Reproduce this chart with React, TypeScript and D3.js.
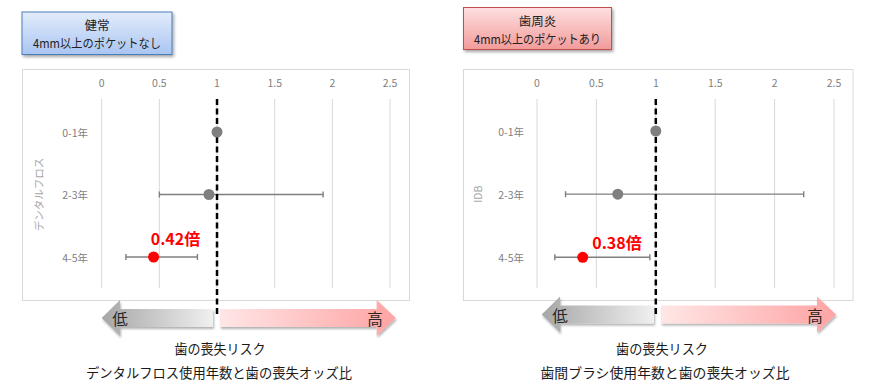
import React from "react";
import * as d3 from "d3";

const categories = ["0-1年", "2-3年", "4-5年"];
const xTicks = [0, 0.5, 1, 1.5, 2, 2.5];

const flossOR = [1.0, 0.93, 0.45];
const flossLow = [1.0, 0.5, 0.21];
const flossHigh = [1.0, 1.92, 0.83];

const idbOR = [1.0, 0.68, 0.385];
const idbLow = [1.0, 0.24, 0.15];
const idbHigh = [1.0, 2.245, 0.95];

const highlightLabels = ["0.42倍", "0.38倍"];
const yTitles = ["デンタルフロス", "IDB"];
const boxTitles = [["健常", "4mm以上のポケットなし"], ["歯周炎", "4mm以上のポケットあり"]];
const footer1 = "歯の喪失リスク";
const footer2 = ["デンタルフロス使用年数と歯の喪失オッズ比", "歯間ブラシ使用年数と歯の喪失オッズ比"];

const FONT = "'Noto Sans CJK JP', 'Noto Sans', sans-serif";

type Panel = {
  idx: number;
  or: number[];
  lo: number[];
  hi: number[];
  frame: [number, number, number, number];
  xr: [number, number];
  yr: [number, number];
  catX: number;
  titleX: number;
  box: [number, number, number, number];
  boxY: [number, number];
  boxW2: number;
  lbl: [number, number];
  arrowY: number;
  arrowL: [number, number, number];
  arrowR: [number, number, number];
  lowX: number;
  highX: number;
  foot: [number, number, number, number];
};

const panels: Panel[] = [
  {
    idx: 0, or: flossOR, lo: flossLow, hi: flossHigh,
    frame: [22.5, 69.5, 409.5, 300.5], xr: [101.7, 390], yr: [132, 257],
    catX: 88, titleX: 38,
    box: [22, 12, 172, 54.5], boxY: [24, 42], boxW2: 128,
    lbl: [175.5, 238], arrowY: 318,
    arrowL: [101.7, 120, 213], arrowR: [220, 376.7, 395.7],
    lowX: 120, highX: 375,
    foot: [220, 219, 91, 266],
  },
  {
    idx: 1, or: idbOR, lo: idbLow, hi: idbHigh,
    frame: [463.5, 69.5, 853, 300.5], xr: [537, 834], yr: [131, 257.3],
    catX: 524, titleX: 477,
    box: [463.5, 7.5, 611.5, 49.5], boxY: [20, 38], boxW2: 127,
    lbl: [617, 242], arrowY: 314.5,
    arrowL: [541.7, 560, 654], arrowR: [661, 817, 836],
    lowX: 560, highX: 815,
    foot: [662, 665, 92, 249],
  },
];

function arrowPath(tip: number, headBack: number, end: number, cy: number, dir: number) {
  const bh = 9, hh = 18;
  if (dir < 0) {
    return `M${tip},${cy} L${headBack},${cy - hh} L${headBack},${cy - bh} L${end},${cy - bh} L${end},${cy + bh} L${headBack},${cy + bh} L${headBack},${cy + hh} Z`;
  }
  return `M${end},${cy} L${headBack},${cy - hh} L${headBack},${cy - bh} L${tip},${cy - bh} L${tip},${cy + bh} L${headBack},${cy + bh} L${headBack},${cy + hh} Z`;
}

function PanelView({ p }: { p: Panel }) {
  const x = d3.scaleLinear().domain([0, 2.5]).range(p.xr);
  const y = d3.scalePoint<string>().domain(categories).range(p.yr);
  const [fx1, fy1, fx2, fy2] = p.frame;
  const [bx1, by1, bx2, by2] = p.box;
  const bcx = (bx1 + bx2) / 2;
  const isBlue = p.idx === 0;
  const ycen = (p.yr[0] + p.yr[1]) / 2;
  return (
    <g>
      {/* label box */}
      <rect x={bx1} y={by1} width={bx2 - bx1} height={by2 - by1}
        fill={`url(#box${p.idx})`} stroke={isBlue ? "#4a7ebb" : "#c0504d"} strokeWidth={1}
        filter="url(#shadow)" />
      <text x={bcx} y={p.boxY[0]} textAnchor="middle" dominantBaseline="central"
        fontFamily={FONT} fontSize={12.5} fill="#222">{boxTitles[p.idx][0]}</text>
      <text x={bcx} y={p.boxY[1]} textAnchor="middle" dominantBaseline="central"
        fontFamily={FONT} fontSize={12.5} fill="#222" textLength={p.boxW2}
        lengthAdjust="spacingAndGlyphs">{boxTitles[p.idx][1]}</text>

      {/* frame */}
      <rect x={fx1} y={fy1} width={fx2 - fx1} height={fy2 - fy1} fill="#fff" stroke="#d9d9d9" strokeWidth={1} />

      {/* grid and ticks */}
      {xTicks.map((t) => (
        <g key={t}>
          <line x1={x(t)} x2={x(t)} y1={99} y2={288} stroke="#d9d9d9" strokeWidth={1} />
          <text x={x(t)} y={82} textAnchor="middle" dominantBaseline="central"
            fontFamily={FONT} fontSize={10.5} fill="#7f7f7f">{t}</text>
        </g>
      ))}

      {/* categories */}
      {categories.map((c) => (
        <text key={c} x={p.catX} y={y(c)} textAnchor="end" dominantBaseline="central"
          fontFamily={FONT} fontSize={10.5} fill="#7f7f7f">{c}</text>
      ))}

      {/* y title */}
      <text transform={`translate(${p.titleX},${ycen}) rotate(-90)`} textAnchor="middle"
        dominantBaseline="central" fontFamily={FONT} fontSize={10.5} fill="#a6a6a6">{yTitles[p.idx]}</text>

      {/* arrows */}
      <path d={arrowPath(p.arrowL[0], p.arrowL[1], p.arrowL[2], p.arrowY, -1)} fill="url(#grayGrad)" filter="url(#ashadow)" />
      <path d={arrowPath(p.arrowR[0], p.arrowR[1], p.arrowR[2], p.arrowY, 1)} fill="url(#pinkGrad)" filter="url(#ashadow)" />
      <text x={p.lowX} y={p.arrowY} textAnchor="middle" dominantBaseline="central"
        fontFamily={FONT} fontSize={15.5} fill="#262626">低</text>
      <text x={p.highX} y={p.arrowY} textAnchor="middle" dominantBaseline="central"
        fontFamily={FONT} fontSize={15.5} fill="#262626">高</text>

      {/* error bars */}
      {categories.map((c, i) => p.hi[i] > p.lo[i] ? (
        <g key={c} stroke="#7f7f7f" strokeWidth={1.4}>
          <line x1={x(p.lo[i])} x2={x(p.hi[i])} y1={y(c)} y2={y(c)} />
          <line x1={x(p.lo[i])} x2={x(p.lo[i])} y1={y(c)! - 3} y2={y(c)! + 3} />
          <line x1={x(p.hi[i])} x2={x(p.hi[i])} y1={y(c)! - 3} y2={y(c)! + 3} />
        </g>
      ) : null)}

      {/* dashed reference line */}
      <line x1={x(1)} x2={x(1)} y1={99} y2={316} stroke="#000" strokeWidth={2.5} strokeDasharray="6 3.5" />

      {/* points */}
      {categories.map((c, i) => (
        <circle key={c} cx={x(p.or[i])} cy={y(c)} r={5.5} fill={i === 2 ? "#ff0000" : "#7f7f7f"} />
      ))}

      {/* highlight label */}
      <text x={p.lbl[0]} y={p.lbl[1]} textAnchor="middle" dominantBaseline="central"
        fontFamily={FONT} fontSize={16} fontWeight="bold" fill="#ff0000">{highlightLabels[p.idx]}</text>

      {/* footer */}
      <text x={p.foot[0]} y={348} textAnchor="middle" dominantBaseline="central"
        fontFamily={FONT} fontSize={13.5} fill="#1a1a1a" textLength={p.foot[2]} lengthAdjust="spacingAndGlyphs">{footer1}</text>
      <text x={p.foot[1]} y={372} textAnchor="middle" dominantBaseline="central"
        fontFamily={FONT} fontSize={13.5} fill="#1a1a1a" textLength={p.foot[3]} lengthAdjust="spacingAndGlyphs">{footer2[p.idx]}</text>
    </g>
  );
}

export default function App() {
  return (
    <svg width={871} height={382} style={{ position: "absolute", left: 0, top: 0, background: "#fff" }}>
      <defs>
        <linearGradient id="box0" x1="0" y1="0" x2="0" y2="1">
          <stop offset="0" stopColor="#e3ecfb" />
          <stop offset="1" stopColor="#a9c5f2" />
        </linearGradient>
        <linearGradient id="box1" x1="0" y1="0" x2="0" y2="1">
          <stop offset="0" stopColor="#fde0e0" />
          <stop offset="1" stopColor="#f39a9a" />
        </linearGradient>
        <linearGradient id="grayGrad" x1="0" y1="0" x2="1" y2="0">
          <stop offset="0" stopColor="#a6a6a6" />
          <stop offset="1" stopColor="#f0f0f0" />
        </linearGradient>
        <linearGradient id="pinkGrad" x1="0" y1="0" x2="1" y2="0">
          <stop offset="0" stopColor="#ffe6e6" />
          <stop offset="1" stopColor="#ffa3a3" />
        </linearGradient>
        <filter id="shadow" x="-10%" y="-20%" width="130%" height="150%">
          <feDropShadow dx="1.5" dy="2" stdDeviation="1.5" floodColor="#000" floodOpacity="0.35" />
        </filter>
        <filter id="ashadow" x="-10%" y="-30%" width="130%" height="170%">
          <feDropShadow dx="1" dy="2" stdDeviation="1.2" floodColor="#000" floodOpacity="0.3" />
        </filter>
      </defs>
      {panels.map((p) => <PanelView key={p.idx} p={p} />)}
    </svg>
  );
}
